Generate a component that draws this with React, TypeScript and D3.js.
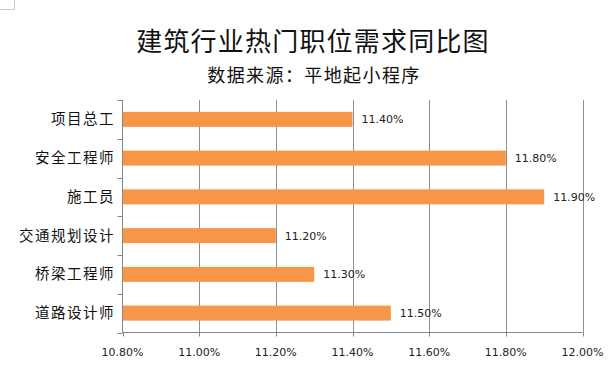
import React from "react";
import * as d3 from "d3";

const categories = ["项目总工", "安全工程师", "施工员", "交通规划设计", "桥梁工程师", "道路设计师"];
const values = [11.4, 11.8, 11.9, 11.2, 11.3, 11.5];
const xTicks = [10.8, 11.0, 11.2, 11.4, 11.6, 11.8, 12.0];
const title = "建筑行业热门职位需求同比图";
const subtitle = "数据来源：平地起小程序";

export default function App() {
  const W = 616, H = 377;
  const left = 122.5, right = 582.5, top = 100, bottom = 332.5;
  const x = d3.scaleLinear().domain([10.8, 12.0]).range([left, right]);
  const y = d3.scaleBand<string>().domain(categories).range([top, bottom]).paddingInner(0.614).paddingOuter(0.307);
  const fmt = (v: number) => v.toFixed(2) + "%";
  const cjk = "'Noto Sans CJK SC', sans-serif";
  const num = "'DejaVu Sans', sans-serif";
  const bandStep = (bottom - top) / categories.length;
  return (
    <svg width={W} height={H} style={{ position: "absolute", left: 0, top: 0, background: "#fff" }}>
      <rect x={0} y={0} width={W} height={H} fill="#fff" />
      <path d="M0,9.5 H14.5 V0" fill="none" stroke="#c8c8c8" strokeWidth={1} />
      <text x={313} y={51} textAnchor="middle" fontFamily={cjk} fontSize={26} letterSpacing={1.2} fill="#111" fontWeight={400}>{title}</text>
      <text x={314} y={82} textAnchor="middle" fontFamily={cjk} fontSize={18} letterSpacing={1.4} fill="#111" fontWeight={400}>{subtitle}</text>
      {xTicks.slice(1).map((t) => (
        <line key={"g" + t} x1={Math.round(x(t)) + 0.5} x2={Math.round(x(t)) + 0.5} y1={top} y2={bottom} stroke="#8f8f8f" strokeWidth={1} />
      ))}
      {values.map((v, i) => (
        <rect key={"b" + i} x={left} y={y(categories[i])!} width={x(v) - left} height={y.bandwidth()} fill="#F79646" />
      ))}
      {values.map((v, i) => (
        <text key={"l" + i} x={x(v) + 9} y={y(categories[i])! + y.bandwidth() / 2 + 4} fontFamily={num} fontSize={11} fill="#222">{fmt(v)}</text>
      ))}
      <line x1={left} x2={left} y1={top} y2={bottom} stroke="#868686" strokeWidth={1} />
      <line x1={left} x2={right} y1={bottom} y2={bottom} stroke="#868686" strokeWidth={1} />
      {d3.range(categories.length + 1).map((k) => (
        <line key={"yt" + k} x1={left - 5} x2={left} y1={Math.round(top + k * bandStep) + 0.5} y2={Math.round(top + k * bandStep) + 0.5} stroke="#868686" strokeWidth={1} />
      ))}
      {xTicks.map((t) => (
        <line key={"xt" + t} x1={Math.round(x(t)) + 0.5} x2={Math.round(x(t)) + 0.5} y1={bottom} y2={bottom + 4} stroke="#868686" strokeWidth={1} />
      ))}
      {xTicks.map((t) => (
        <text key={"xl" + t} x={x(t)} y={356} textAnchor="middle" fontFamily={num} fontSize={11} fill="#222">{fmt(t)}</text>
      ))}
      {categories.map((c) => (
        <text key={"yl" + c} x={115} y={y(c)! + y.bandwidth() / 2 + 5} textAnchor="end" fontFamily={cjk} fontSize={14.5} letterSpacing={1.5} fill="#111" fontWeight={400}>{c}</text>
      ))}
    </svg>
  );
}
